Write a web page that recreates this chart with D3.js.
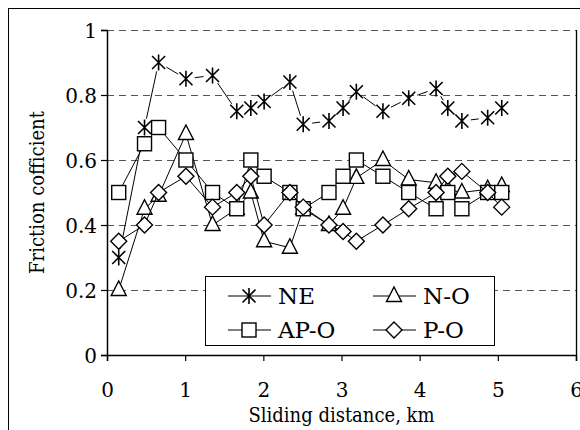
<!DOCTYPE html>
<html><head><meta charset="utf-8">
<script src="https://cdn.jsdelivr.net/npm/d3@7"></script>
<style>body{margin:0;background:#fff}svg{display:block}</style>
</head><body><svg id="c" width="580" height="430"></svg>
<script>
const distance = [0.15,0.48,0.66,1.01,1.35,1.66,1.84,2.01,2.34,2.51,2.84,3.02,3.19,3.53,3.86,4.21,4.36,4.54,4.87,5.05];
const NE   = [0.30,0.70,0.90,0.85,0.86,0.75,0.76,0.78,0.84,0.71,0.72,0.76,0.81,0.75,0.79,0.82,0.76,0.72,0.73,0.76];
const NO   = [0.20,0.45,0.49,0.68,0.40,0.45,0.50,0.35,0.33,0.45,0.40,0.45,0.545,0.60,0.54,0.53,0.51,0.50,0.51,0.52];
const APO  = [0.50,0.65,0.70,0.60,0.50,0.45,0.60,0.55,0.50,0.45,0.50,0.55,0.60,0.55,0.50,0.45,0.50,0.45,0.50,0.50];
const PO   = [0.35,0.40,0.50,0.55,0.455,0.50,0.55,0.40,0.50,0.455,0.40,0.38,0.35,0.40,0.45,0.50,0.55,0.565,0.50,0.455];
const seriesNames = ["NE","N-O","AP-O","P-O"];
const seriesMarkers = ["star","triangle","square","diamond"];
const xTicks = [0,1,2,3,4,5,6];
const yTicks = [0,0.2,0.4,0.6,0.8,1];
const xTitle = "Sliding distance, km";
const yTitle = "Friction cofficient";

const FONT = "'DejaVu Serif', serif";
const FONTC = "'DejaVu Serif Condensed', 'DejaVu Serif', serif";
const svg = d3.select("#c");
const L=107,R=576,T=30,B=355;
const x = d3.scaleLinear().domain([0,6]).range([L,R]);
const y = d3.scaleLinear().domain([0,1]).range([B,T]);

svg.append("rect").attr("x",8.5).attr("y",8.5).attr("width",700).attr("height",700)
  .attr("fill","none").attr("stroke","#000").attr("stroke-width",1);

svg.append("g").selectAll("line").data(yTicks.filter(d=>d>0)).join("line")
  .attr("x1",L).attr("x2",R).attr("y1",d=>Math.round(y(d))+0.5).attr("y2",d=>Math.round(y(d))+0.5)
  .attr("stroke","#555").attr("stroke-width",1.2).attr("stroke-dasharray","7,5");
svg.append("line").attr("x1",R+0.5).attr("x2",R+0.5).attr("y1",T).attr("y2",B).attr("stroke","#000").attr("stroke-width",1.3);

const xAxis = svg.append("g").attr("transform",`translate(0,${B})`)
  .call(d3.axisBottom(x).tickValues(xTicks).tickFormat(d3.format("d")).tickSize(6).tickPadding(22));
const yAxis = svg.append("g").attr("transform",`translate(${L},0)`)
  .call(d3.axisLeft(y).tickValues(yTicks).tickFormat(d=>d===0||d===1?String(d):d.toFixed(1)).tickSize(6).tickPadding(4));
[xAxis,yAxis].forEach(a=>{
  a.attr("font-family",FONT);
  a.select(".domain").attr("stroke","#000").attr("stroke-width",1.5);
  a.selectAll(".tick line").attr("stroke","#000").attr("stroke-width",1.2);
  a.selectAll("text").attr("font-family",FONT).attr("font-size",20).attr("fill","#000");
});
yAxis.selectAll("text").attr("dy","0.35em");

svg.append("text").attr("x",x(3)).attr("y",422).attr("text-anchor","middle")
  .attr("font-family",FONTC).attr("font-size",20).text(xTitle);
svg.append("text").attr("transform",`translate(44,${(T+B)/2}) rotate(-90)`).attr("text-anchor","middle")
  .attr("font-family",FONTC).attr("font-size",20).text(yTitle);

function marker(g, type, cx, cy){
  if(type==="star"){
    const s=6.5, v=8;
    g.append("path").attr("d",`M${cx-s},${cy-s}L${cx+s},${cy+s}M${cx-s},${cy+s}L${cx+s},${cy-s}M${cx},${cy-v}L${cx},${cy+v}`)
      .attr("stroke","#000").attr("stroke-width",1.6).attr("fill","none");
  } else if(type==="square"){
    g.append("rect").attr("x",cx-7).attr("y",cy-7).attr("width",14).attr("height",14)
      .attr("fill","#fff").attr("stroke","#000").attr("stroke-width",1.4);
  } else if(type==="triangle"){
    g.append("path").attr("d",`M${cx},${cy-9}L${cx+7.5},${cy+5.5}L${cx-7.5},${cy+5.5}Z`)
      .attr("fill","#fff").attr("stroke","#000").attr("stroke-width",1.4);
  } else {
    g.append("path").attr("d",`M${cx},${cy-8}L${cx+8},${cy}L${cx},${cy+8}L${cx-8},${cy}Z`)
      .attr("fill","#fff").attr("stroke","#000").attr("stroke-width",1.4);
  }
}

const allSeries = [NE,NO,APO,PO];
allSeries.forEach((vals,si)=>{
  const g = svg.append("g");
  const pts = distance.map((d,i)=>[x(d),y(vals[i])]);
  const gap = si===0?9:0;
  for(let i=0;i<pts.length-1;i++){
    const [x1,y1]=pts[i],[x2,y2]=pts[i+1];
    const len=Math.hypot(x2-x1,y2-y1);
    if(len<=2*gap) continue;
    const ux=(x2-x1)/len, uy=(y2-y1)/len;
    g.append("line").attr("x1",x1+ux*gap).attr("y1",y1+uy*gap).attr("x2",x2-ux*gap).attr("y2",y2-uy*gap)
      .attr("stroke","#000").attr("stroke-width",1);
  }
  pts.forEach(p=>marker(g,seriesMarkers[si],p[0],p[1]));
});

const lg = svg.append("g");
lg.append("rect").attr("x",205.5).attr("y",276.5).attr("width",289).attr("height",69)
  .attr("fill","#fff").attr("stroke","#000").attr("stroke-width",1);
const legPos = [[228,296],[373,296],[228,330],[373,330]];
seriesNames.forEach((n,i)=>{
  const [lx,ly]=legPos[i];
  lg.append("line").attr("x1",lx).attr("x2",lx+43).attr("y1",ly).attr("y2",ly).attr("stroke","#000").attr("stroke-width",1);
  marker(lg,seriesMarkers[i],lx+21,ly);
  lg.append("text").attr("x",lx+50).attr("y",ly).attr("dy","0.35em")
    .attr("font-family",FONT).attr("font-size",23).text(n);
});
</script></body></html>
